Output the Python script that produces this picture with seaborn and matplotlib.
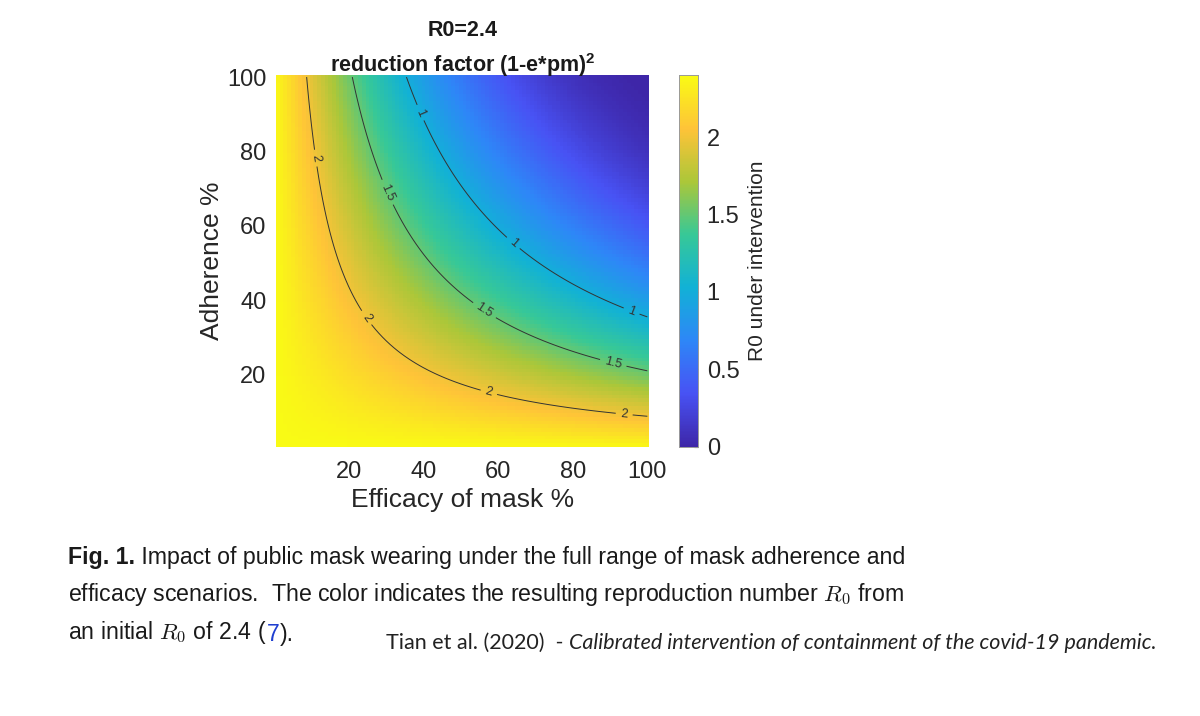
import numpy as np
import pandas as pd
import matplotlib
matplotlib.use("Agg")
import matplotlib.pyplot as plt
from matplotlib.colors import LinearSegmentedColormap
import seaborn as sns

# chart values
r0_initial = 2.4
efficacy_pct = np.arange(1, 101)      # mask efficacy e, %
adherence_pct = np.arange(1, 101)     # adherence pm, %
contour_levels = [1, 1.5, 2]
x_ticks = [20, 40, 60, 80, 100]
y_ticks = [20, 40, 60, 80, 100]
cbar_ticks = [0, 0.5, 1, 1.5, 2]

# R0 under intervention = R0 * (1 - e*pm)^2  (model named in the chart title)
e_grid, p_grid = np.meshgrid(efficacy_pct / 100, adherence_pct / 100)
r0_grid = pd.DataFrame(r0_initial * (1 - e_grid * p_grid) ** 2,
                       index=adherence_pct, columns=efficacy_pct)

# MATLAB parula (8 stops)
parula_stops = [
    (0.2422, 0.1504, 0.6603), (0.2810, 0.3228, 0.9578),
    (0.1786, 0.5289, 0.9682), (0.0689, 0.6948, 0.8394),
    (0.2161, 0.7843, 0.5923), (0.6720, 0.7793, 0.2227),
    (0.9970, 0.7659, 0.2199), (0.9769, 0.9839, 0.0805),
]
parula = LinearSegmentedColormap.from_list("parula", parula_stops, N=256)

sns.set_style("white")
plt.rcParams["font.family"] = ["Liberation Sans", "DejaVu Sans"]
plt.rcParams["mathtext.fontset"] = "custom"
plt.rcParams["mathtext.rm"] = "Liberation Sans"
plt.rcParams["mathtext.it"] = "Liberation Sans:italic"
plt.rcParams["mathtext.bf"] = "Liberation Sans:bold"

fig = plt.figure(figsize=(12, 7.16), dpi=100)
ax = fig.add_axes([0.23, 0.376, 0.311, 0.519])
cax = fig.add_axes([0.566, 0.376, 0.016, 0.519])

sns.heatmap(r0_grid, ax=ax, cmap=parula, vmin=0, vmax=r0_initial,
            cbar_ax=cax, xticklabels=False, yticklabels=False)
ax.invert_yaxis()

# contour lines in heatmap cell coordinates (cell centre = value - 0.5)
cs = ax.contour(efficacy_pct - 0.5, adherence_pct - 0.5, r0_grid.values,
                levels=contour_levels, colors="#333333", linewidths=0.7)
label_spots = [(10.1, 77.6), (24.5, 34.9), (57.1, 14.9), (93.3, 8.8),
               (29.9, 68.5), (55.7, 36.5), (90.4, 22.7),
               (38.7, 89.9), (63.2, 54.4), (95.2, 36.3)]
ax.clabel(cs, inline=True, fontsize=9, fmt=lambda v: f"{v:g}",
          manual=label_spots, inline_spacing=5)

ax.set_xticks([v - 0.5 for v in x_ticks])
ax.set_xticklabels([str(v) for v in x_ticks], rotation=0)
ax.set_yticks([v - 0.5 for v in y_ticks])
ax.set_yticklabels([str(v) for v in y_ticks], rotation=0)
ax.tick_params(axis="both", length=0, labelsize=17, colors="#262626")
ax.tick_params(axis="x", pad=10)
ax.tick_params(axis="y", pad=7)
ax.set_xlabel("Efficacy of mask %", fontsize=19, color="#262626", labelpad=4)
ax.set_ylabel("Adherence %", fontsize=19, color="#262626", labelpad=2)
ax.set_title("R0=2.4\nreduction factor (1-e*pm)$^\\mathbf{2}$",
             fontsize=15.5, fontweight="bold", color="#1a1a1a", pad=2,
             linespacing=1.5)

cax.set_yticks(cbar_ticks)
cax.set_yticklabels([f"{v:g}" for v in cbar_ticks])
cax.tick_params(axis="y", direction="in", length=3, labelsize=17,
                colors="#262626", pad=6)
cax.set_ylabel("R0 under intervention", fontsize=15, color="#262626",
               labelpad=6)
for s in cax.spines.values():
    s.set_visible(True)
    s.set_color("#9a9a9a")
    s.set_linewidth(0.6)

# caption
cap_font = ["Liberation Sans", "DejaVu Sans"]
cap_size = 16.7
t1 = fig.text(0.057, 0.212, "Fig. 1.", fontsize=cap_size, fontweight="bold",
              family=cap_font, color="#1a1a1a")
ax.annotate(" Impact of public mask wearing under the full range of mask adherence and",
            xy=(1, 0), xycoords=t1, va="bottom", fontsize=cap_size,
            family=cap_font, color="#1a1a1a", annotation_clip=False)
fig.text(0.057, 0.160,
         "efficacy scenarios.  The color indicates the resulting reproduction number $R_0$ from",
         fontsize=cap_size, family=cap_font, color="#1a1a1a",
         math_fontfamily="cm")
t3 = fig.text(0.057, 0.108, "an initial $R_0$ of 2.4 (", fontsize=cap_size,
              family=cap_font, color="#1a1a1a", math_fontfamily="cm")
t4 = ax.annotate("7", xy=(1, 0), xycoords=t3, va="bottom", fontsize=cap_size,
                 family=cap_font, color="#1f3fd0", annotation_clip=False)
ax.annotate(").", xy=(1, 0), xycoords=t4, va="bottom", fontsize=cap_size,
            family=cap_font, color="#1a1a1a", annotation_clip=False)

# citation
cite_font = ["Lato", "DejaVu Sans"]
c1 = fig.text(0.322, 0.094, "Tian et al. (2020)  - ", fontsize=15.5,
              family=cite_font, fontweight="normal", color="#222222")
ax.annotate("Calibrated intervention of containment of the covid-19 pandemic.",
            xy=(1, 0), xycoords=c1, va="bottom", fontsize=15.5,
            family=cite_font, fontweight="normal", style="italic",
            color="#222222", annotation_clip=False)

fig.savefig("out.png", dpi=100, facecolor="white")
